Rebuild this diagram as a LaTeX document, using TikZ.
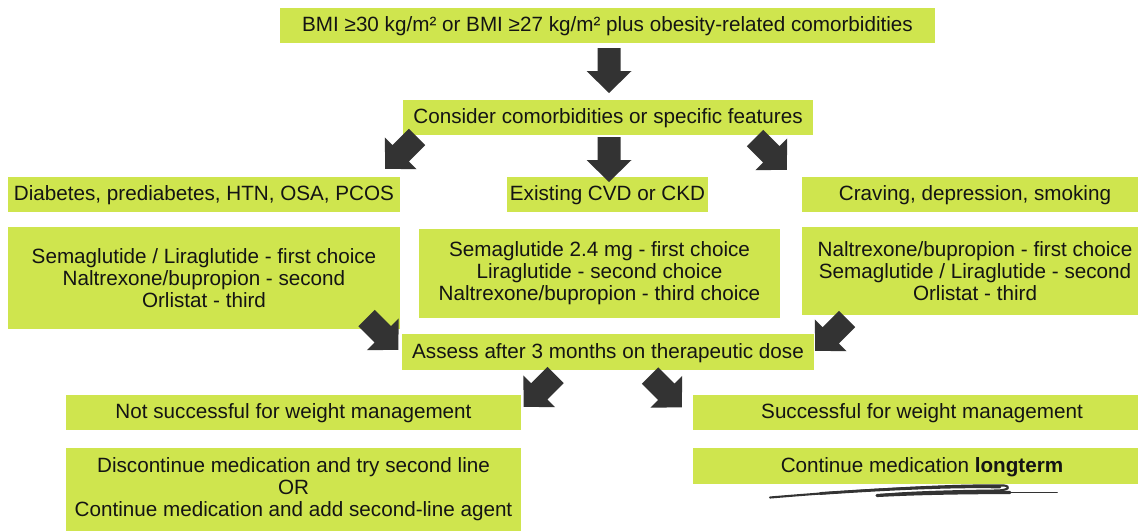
\documentclass[tikz,border=0pt]{standalone}
\usepackage{fontspec}
\setmainfont{Liberation Sans}
\usetikzlibrary{calc}
\definecolor{boxgreen}{RGB}{207,229,78}
\definecolor{arrowgray}{RGB}{51,51,51}
\definecolor{inkblack}{RGB}{20,20,20}
\tikzset{
  box/.style={fill=boxgreen, inner sep=0pt, align=center, text=inkblack,
    font={\fontsize{11.76}{12.5}\selectfont}},
  oneline/.style={box, text height=0.716em, text depth=0pt},
  bw/.style={minimum width=#1*0.02cm},
  bh/.style={minimum height=#1*0.02cm},
  pics/blockarrow/.style={code={
    \fill[arrowgray] (0,-11.5) -- (23,-11.5) -- (23,-22.5) -- (45,0)
      -- (23,22.5) -- (23,11.5) -- (0,11.5) -- cycle;}},
  scribble/.style={draw=arrowgray, line cap=round, line join=round}
}
% block arrow from a tail coordinate towards a tip coordinate
\newcommand\blockarrow[2]{%
  \path let \p1=(#1), \p2=(#2), \n1={atan2(\y2-\y1,\x2-\x1)} in
    (\p1) pic[rotate=\n1] {blockarrow};}
\begin{document}
\begin{tikzpicture}[x=0.02cm, y=-0.02cm]
\useasboundingbox (0,0) rectangle (1138,531);
\begin{scope}
\clip (0,0) rectangle (1138,531);

% boxes
\node[oneline, bw=655, bh=35] (top) at (607.5,25.5)
  {BMI ≥30 kg/m² or BMI ≥27 kg/m² plus obesity-related comorbidities};
\node[oneline, bw=410, bh=35] (consider) at (608,117.5)
  {Consider comorbidities or specific features};

\node[oneline, bw=392, bh=35] (catL) at (204,194.5)
  {Diabetes, prediabetes, HTN, OSA, PCOS};
\node[oneline, bw=201, bh=35] (catM) at (607.5,194.5)
  {Existing CVD or CKD};
\node[oneline, bw=346, bh=35] (catR) at (975,194.5)
  {Craving, depression, smoking};

\node[box, bw=392, bh=102] (drugL) at (204,278)
  {Semaglutide / Liraglutide - first choice\\Naltrexone/bupropion - second\\Orlistat - third};
\node[box, bw=361, bh=89] (drugM) at (599.5,273.5)
  {Semaglutide 2.4 mg - first choice\\Liraglutide - second choice\\Naltrexone/bupropion - third choice};
\node[box, bw=346, bh=88] (drugR) at (975,271)
  {Naltrexone/bupropion - first choice\\Semaglutide / Liraglutide - second\\Orlistat - third};

\node[oneline, bw=412, bh=36] (assess) at (608,352)
  {Assess after 3 months on therapeutic dose};

\node[oneline, bw=455, bh=35] (notsucc) at (293.5,412.5)
  {Not successful for weight management};
\node[oneline, bw=458, bh=35] (succ) at (922,412.5)
  {Successful for weight management};

\node[box, bw=455, bh=83] (discont) at (293.5,489.5)
  {Discontinue medication and try second line\\OR\\Continue medication and add second-line agent};
\node[oneline, bw=458, bh=36] (cont) at (922,466)
  {Continue medication \textbf{longterm}};
\end{scope}

% arrow ends
\coordinate (t1) at (609,48);     \coordinate (h1) at (609,93);
\coordinate (t2) at (417,137);    \coordinate (h2) at (385,169);
\coordinate (t3) at (609,137);    \coordinate (h3) at (609,182);
\coordinate (t4) at (755,138);    \coordinate (h4) at (787,170);
\coordinate (t5) at (366.5,318);  \coordinate (h5) at (398.5,350);
\coordinate (t6) at (847,319);    \coordinate (h6) at (815,351);
\coordinate (t7) at (555.5,375);  \coordinate (h7) at (523.5,407);
\coordinate (t8) at (650,375.5);  \coordinate (h8) at (682,407.5);

\blockarrow{t1}{h1}
\blockarrow{t2}{h2}
\blockarrow{t3}{h3}
\blockarrow{t4}{h4}
\blockarrow{t5}{h5}
\blockarrow{t6}{h6}
\blockarrow{t7}{h7}
\blockarrow{t8}{h8}

% hand-drawn underline below the last box
\draw[scribble, line width=1.2] (770,497.5)
  .. controls (860,490) and (950,484.5) .. (1004,485.5)
  .. controls (1011,486.5) and (1009,490) .. (998,490.5)
  .. controls (950,491) and (900,492.5) .. (877,495.5);
\draw[scribble, line width=1.6] (820,493.5)
  .. controls (900,488) and (960,486) .. (1000,487);
\draw[scribble, line width=1.8] (877,495.5)
  .. controls (920,493) and (980,492.5) .. (1010,492.5);
\draw[scribble, line width=1.1] (1000,492.5) -- (1057,492.5);
\end{tikzpicture}
\end{document}
